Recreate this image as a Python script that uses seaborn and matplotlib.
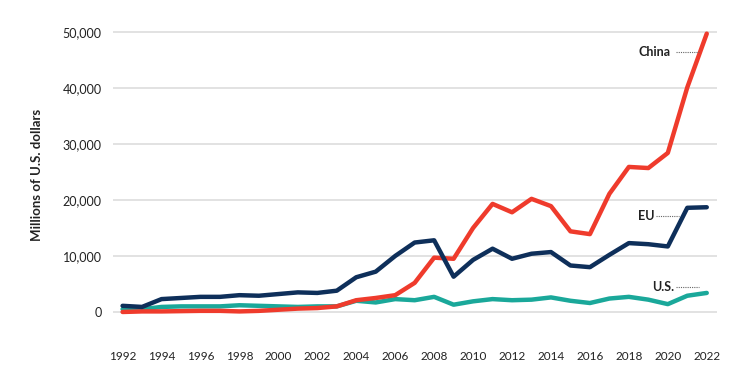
import pandas as pd
import matplotlib.pyplot as plt
import seaborn as sns

# Values (millions of U.S. dollars)
years = list(range(1992, 2023))
china = [0, 100, 100, 150, 200, 200, 100, 200, 400, 600, 700, 1000, 2100, 2500, 3000,
         5200, 9700, 9500, 15000, 19300, 17800, 20200, 18900, 14400, 13900,
         21100, 25900, 25700, 28400, 40100, 49700]
eu = [1100, 900, 2300, 2500, 2700, 2700, 3000, 2900, 3200, 3500, 3400, 3800, 6200, 7200, 10000,
      12400, 12800, 6300, 9300, 11300, 9500, 10400, 10700, 8300, 8000,
      10200, 12300, 12100, 11700, 18600, 18700]
us = [500, 500, 900, 1000, 1000, 1000, 1200, 1100, 1000, 900, 1000, 1000, 2000, 1700, 2300,
      2100, 2700, 1300, 1900, 2300, 2100, 2200, 2600, 2000, 1600,
      2400, 2700, 2200, 1400, 2900, 3400]

series_names = ["U.S.", "China", "EU"]
colors = {"China": "#EF3B2C", "EU": "#0E2F5A", "U.S.": "#1AA89A"}

df = pd.DataFrame({"year": years, "China": china, "EU": eu, "U.S.": us})
long_df = df.melt(id_vars="year", var_name="region", value_name="value")

sns.set_style("white")
plt.rcParams["font.family"] = ["Lato", "DejaVu Sans"]

fig = plt.figure(figsize=(7.56, 3.66), dpi=100)
ax = fig.add_axes([0.149, 0.117, 0.799, 0.811])

sns.lineplot(
    data=long_df,
    x="year",
    y="value",
    hue="region",
    hue_order=series_names,
    palette=colors,
    linewidth=3.2,
    legend=False,
    ax=ax,
)

ax.set_xlim(1991.49, 2022.51)
ax.set_ylim(-2000, 51000)
ax.set_xticks(range(1992, 2023, 2))
ax.set_yticks(range(0, 50001, 10000))
ax.set_yticklabels([f"{v:,}" for v in range(0, 50001, 10000)])
ax.grid(axis="y", color="#DDDDDD", linewidth=1.2)
ax.set_axisbelow(True)
for s in ax.spines.values():
    s.set_visible(False)
ax.tick_params(axis="x", length=0, pad=20, labelsize=8.5, colors="#222222")
ax.tick_params(axis="y", length=0, pad=8, labelsize=9, colors="#222222")
ax.set_xlabel("")
ax.set_ylabel("Millions of U.S. dollars", fontsize=9.5, fontweight="bold",
              color="#222222", labelpad=14)

# Direct labels with dotted leaders
labels = [("China", 2018.5, 46400, 2020.4, 2021.6),
          ("EU", 2018.45, 17100, 2019.4, 2020.6),
          ("U.S.", 2019.2, 4500, 2020.4, 2021.6)]
for name, tx, ty, x0, x1 in labels:
    ax.text(tx, ty, name, fontsize=9, fontweight="bold", color="#222222",
            va="center", ha="left")
    ax.plot([x0, x1], [ty, ty], linestyle=(0, (1, 1)), color="#666666", linewidth=0.8)

fig.savefig("out.png", dpi=100)
